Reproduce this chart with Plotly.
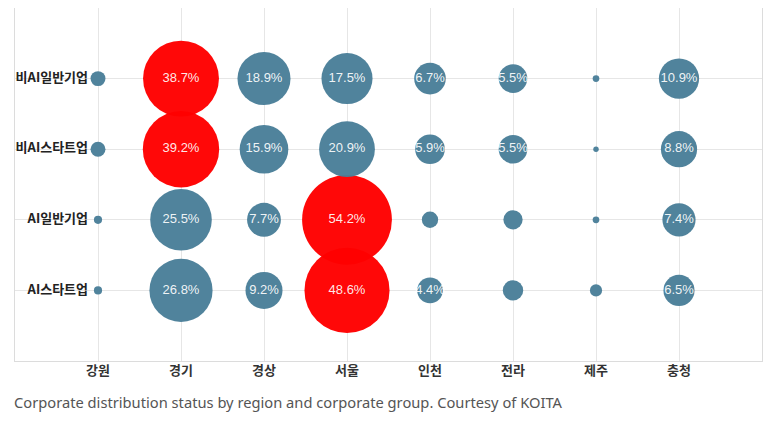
import numpy as np
import plotly.graph_objects as go

# --- Data ---
regions = ["강원", "경기", "경상", "서울", "인천", "전라", "제주", "충청"]
groups = ["AI스타트업", "AI일반기업", "비AI스타트업", "비AI일반기업"]  # bottom -> top

share = {
    "비AI일반기업": [1.5, 38.7, 18.9, 17.5, 6.7, 5.5, 0.3, 10.9],
    "비AI스타트업": [1.5, 39.2, 15.9, 20.9, 5.9, 5.5, 0.2, 8.8],
    "AI일반기업": [0.45, 25.5, 7.7, 54.2, 1.8, 2.5, 0.3, 7.4],
    "AI스타트업": [0.45, 26.8, 9.2, 48.6, 4.4, 2.8, 1.0, 6.5],
}

caption = "Corporate distribution status by region and corporate group. Courtesy of KOITA"

BLUE = "#4a7f99"
RED = "#ff0000"

fig = go.Figure()

# --- Bubbles ---
for g in groups:
    vals = np.array(share[g])
    sizes = 12.2 * np.sqrt(vals)
    colors = [RED if v == vals.max() else BLUE for v in vals]
    labels = [f"{v:.1f}%" if v >= 4 else "" for v in vals]
    fig.add_trace(go.Scatter(
        x=[regions.index(r) for r in regions],
        y=[groups.index(g)] * len(regions),
        mode="markers+text",
        marker=dict(size=sizes, sizemode="diameter", color=colors, opacity=0.97,
                    line=dict(width=0)),
        text=labels,
        textposition="middle center",
        textfont=dict(family="Liberation Sans, Arial", size=13, color="rgba(255,255,255,0.92)"),
        hoverinfo="skip",
        showlegend=False,
        cliponaxis=False,
    ))

# --- Group labels (drawn inside the plot, left of the first column) ---
fig.add_trace(go.Scatter(
    x=[-0.12] * len(groups),
    y=list(range(len(groups))),
    mode="text",
    text=[f"<b>{g}</b>" for g in groups],
    textposition="middle left",
    textfont=dict(family="Noto Sans CJK KR", size=13, color="#222"),
    hoverinfo="skip",
    showlegend=False,
))

# page body has an 8px margin, so the figure is 16px smaller than the window
fig.update_layout(
    width=755, height=420,
    margin=dict(l=7, r=1, t=0, b=67),
    paper_bgcolor="white",
    plot_bgcolor="white",
    xaxis=dict(
        type="linear",
        range=[-1, 8],
        tickmode="array",
        tickvals=list(range(len(regions))),
        ticktext=[f"<b>{r}</b>" for r in regions],
        tickfont=dict(family="Noto Sans CJK KR", size=13, color="#333"),
        ticklabelstandoff=-3,
        showgrid=True, gridcolor="#e6e6e6", gridwidth=1,
        zeroline=False,
        showline=True, linecolor="#dcdcdc", linewidth=1, mirror=True,
        ticks="", ticklen=0,
    ),
    yaxis=dict(
        type="linear",
        range=[-1, 4],
        tickmode="array",
        tickvals=list(range(len(groups))),
        showticklabels=False,
        showgrid=True, gridcolor="#e6e6e6", gridwidth=1,
        zeroline=False,
        showline=True, linecolor="#dcdcdc", linewidth=1, mirror=True,
    ),
    annotations=[dict(
        text=caption, xref="paper", yref="paper",
        x=-0.004, y=-0.083, xanchor="left", yanchor="top", showarrow=False,
        font=dict(family="Noto Sans", size=14.7, color="#555"),
    )],
)

fig.write_html("out.html")
